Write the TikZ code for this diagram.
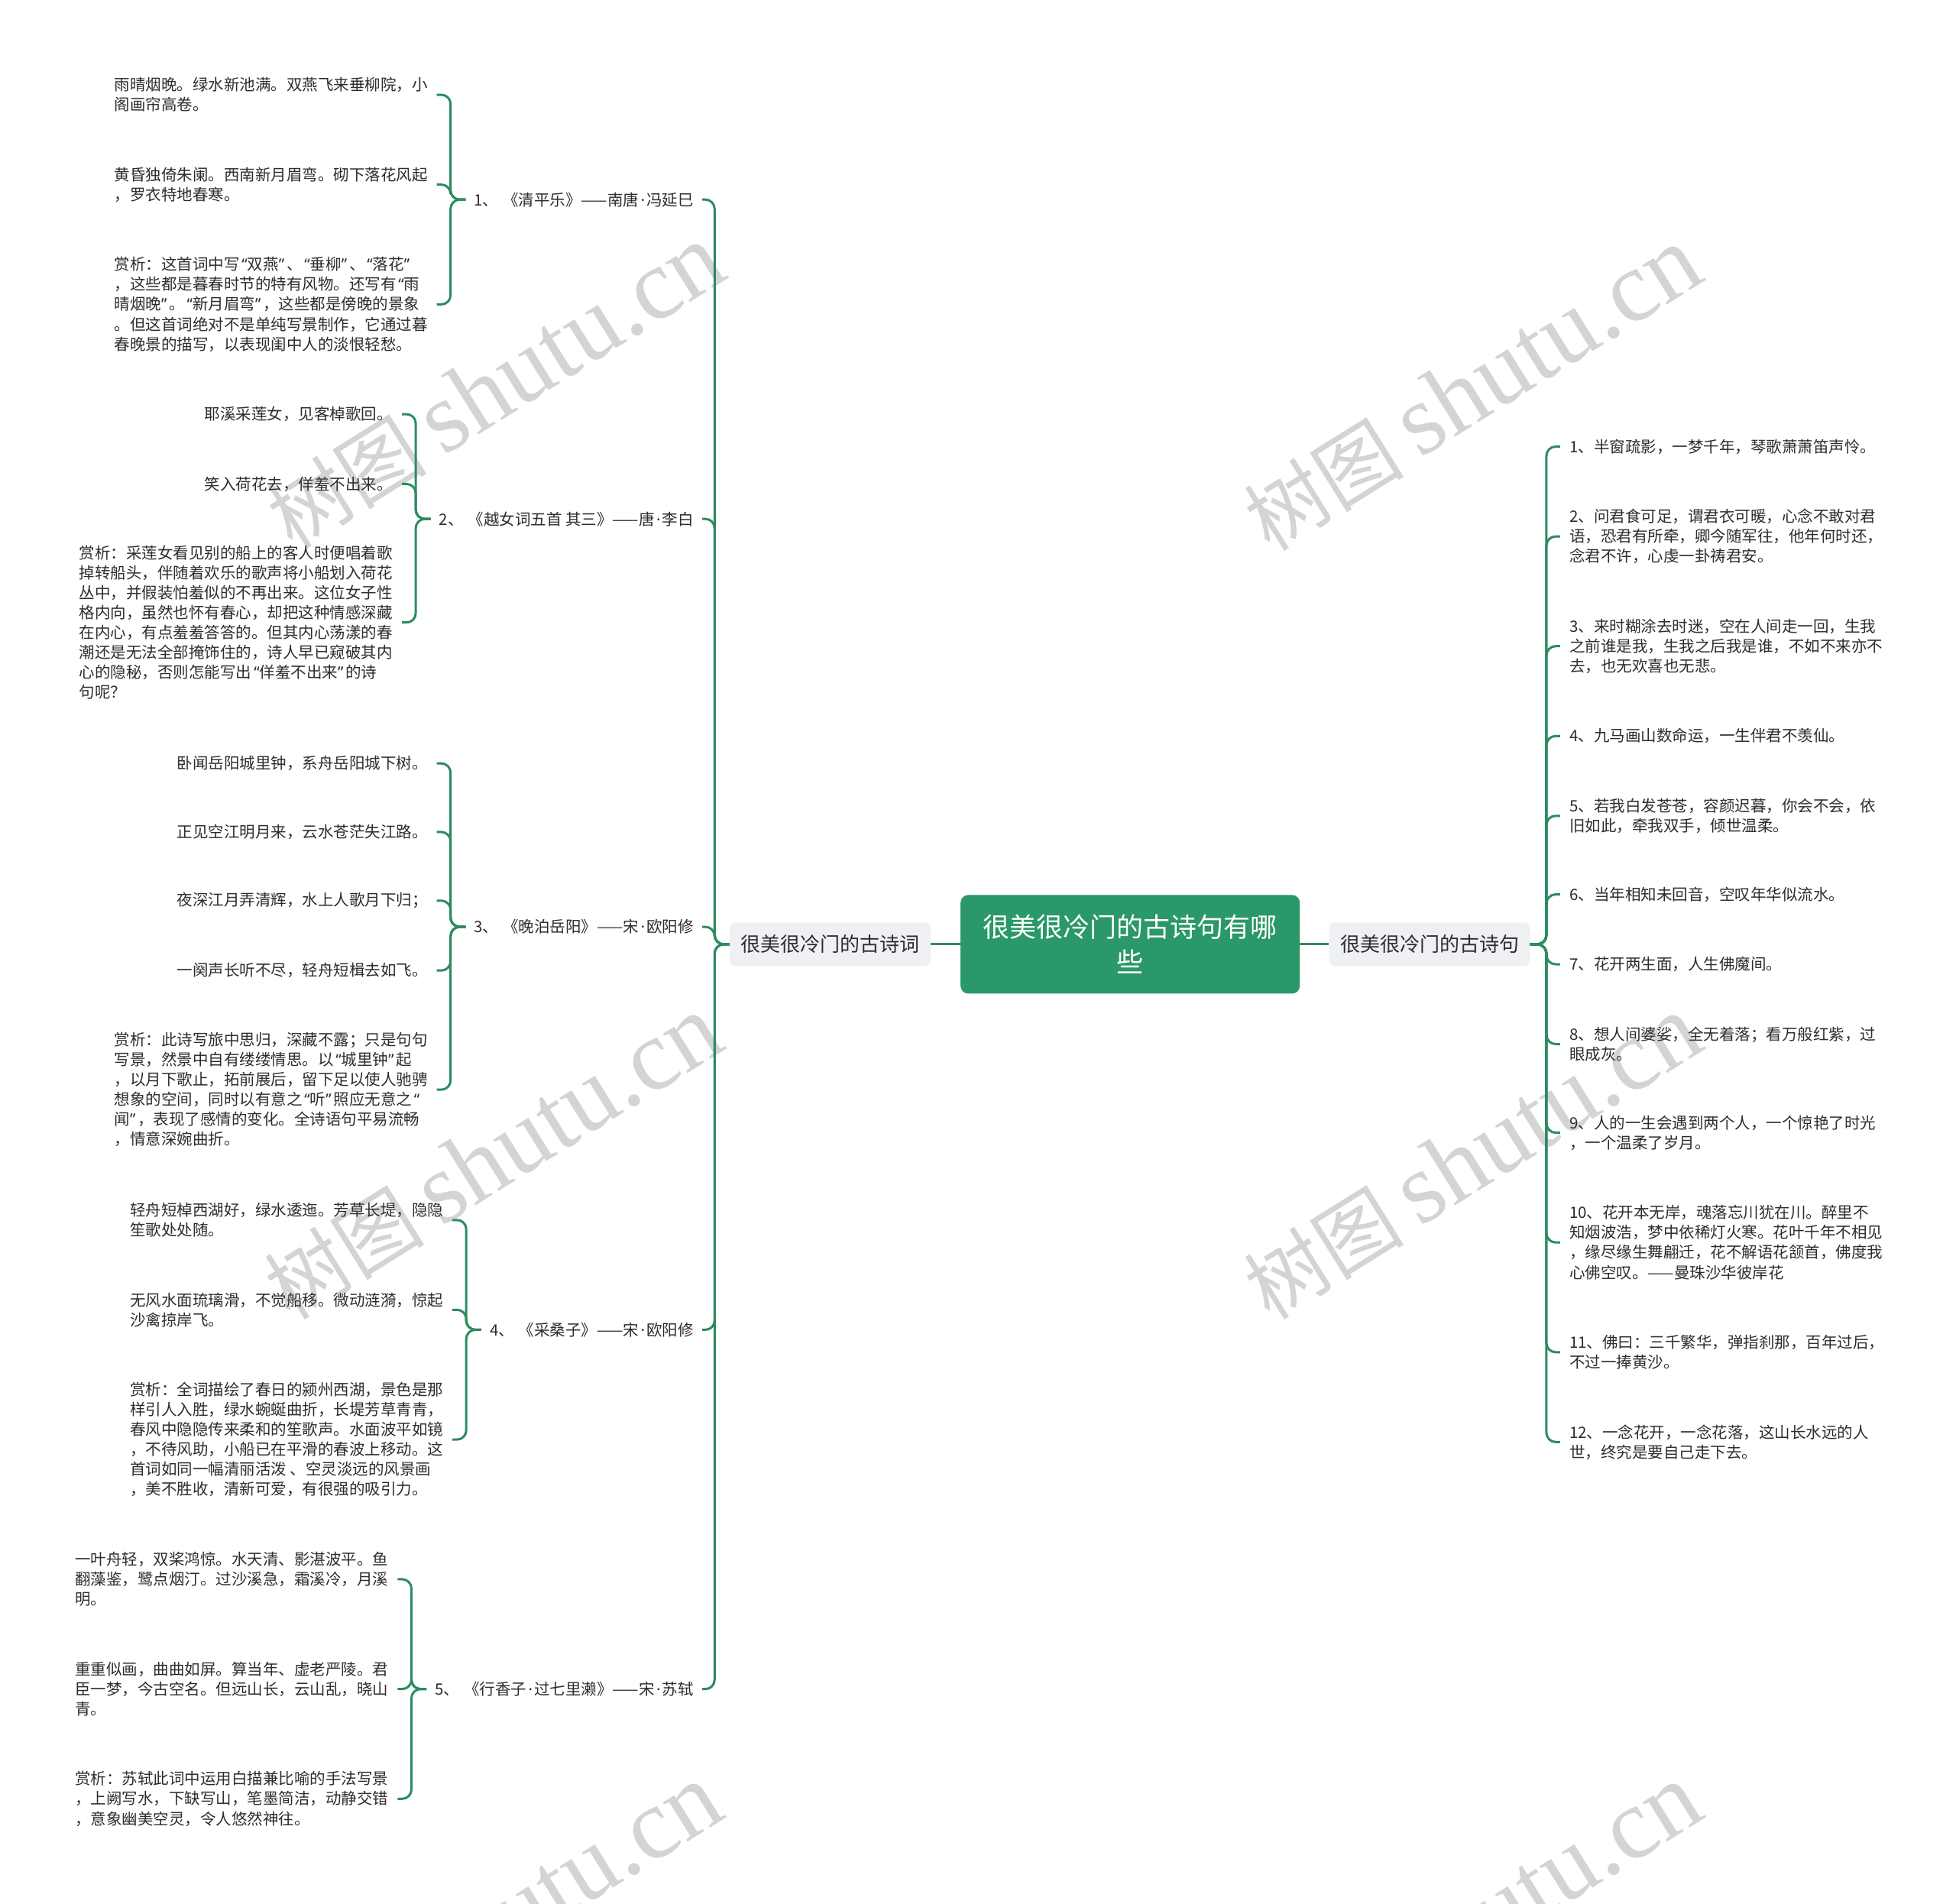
\documentclass[tikz,border=0pt]{standalone}
\usepackage{fontspec}
\setmainfont{Noto Sans CJK SC}
\newfontfamily\wmlatin{Liberation Serif}
\newfontfamily\westf{Noto Sans}
\newcommand{\qo}{\makebox[0.5em][r]{\westf “}}
\newcommand{\qc}{\makebox[0.5em][l]{\westf ”}}
\newcommand{\qdot}{\makebox[0.5em]{\westf ·}}
\newcommand{\dun}{、\hspace{6pt}}
\usetikzlibrary{calc}
\definecolor{mgreen}{RGB}{42,152,104}
\definecolor{lgreen}{RGB}{44,140,96}
\definecolor{bfill}{RGB}{238,240,244}
\definecolor{txt}{RGB}{45,45,45}
\definecolor{wmc}{RGB}{212,212,212}
\begin{document}
\begin{tikzpicture}[x=1.63265pt,y=-1.63265pt,
 link/.style={draw=lgreen,line width=3pt,rounded corners=12pt},
 leaf/.style={font=\fontsize{20.5}{26.1}\selectfont,text=txt,align=left,inner xsep=12pt,inner ysep=4pt},
 leafL/.style={leaf,anchor=east,xshift=-18pt},
 leafR/.style={leaf,anchor=west,xshift=18pt},
 sub/.style={font=\fontsize{20.5}{26.1}\selectfont,text=txt,anchor=east,inner xsep=11pt,inner ysep=4pt},
 branch/.style={fill=bfill,rounded corners=8pt,minimum width=263pt,minimum height=57pt,font=\fontsize{26}{30}\selectfont,text=txt,inner sep=0pt},
 root/.style={fill=mgreen,rounded corners=10pt,minimum width=444pt,minimum height=129pt,font=\fontsize{35}{46}\selectfont,text=white,align=center,inner sep=0pt},
 wm/.style={text=wmc,rotate=32,inner sep=0pt}]
\useasboundingbox[fill=white] (0,0) rectangle (1568,1526);
% watermarks
\begin{scope}
\clip (0,0) rectangle (1568,1526);
\foreach \wx/\wy in {397/310,1180/312,395/928,1180/928,395/1544,1180/1544}{
 \node[wm] at (\wx,\wy) {\fontsize{105}{105}\selectfont 树图\hspace{22pt}{\wmlatin\fontsize{132}{132}\selectfont shutu.cn}};
}
\end{scope}
% root and branches
\node[root] (root) at (906,757) {很美很冷门的古诗句有哪\\些};
\node[branch] (lb) at (665.5,757) {很美很冷门的古诗词};
\node[branch] (rb) at (1146,757) {很美很冷门的古诗句};
\draw[link] (root.west) -- (lb.east);
\draw[link] (root.east) -- (rb.west);
\coordinate (ls) at ($(lb.west)+(-12,0)$);
\coordinate (rs) at ($(rb.east)+(13,0)$);
% left level 2
\node[sub] (g1) at (563,160) {1\dun《清平乐》——南唐\qdot 冯延巳};
\node[sub] (g2) at (563,416) {2\dun《越女词五首 其三》——唐\qdot 李白};
\node[sub] (g3) at (563,743) {3\dun《晚泊岳阳》——宋\qdot 欧阳修};
\node[sub] (g4) at (563,1066) {4\dun《采桑子》——宋\qdot 欧阳修};
\node[sub] (g5) at (563,1354) {5\dun《行香子\qdot 过七里濑》——宋\qdot 苏轼};
\foreach \g in {g1,g2,g3,g4,g5}{\draw[link] (lb.west) -- (ls) |- (\g.east);}
% group 1
\coordinate (b1) at ($(g1.west)+(-12,0)$);
\node[leafL] (l11) at (b1 |- 0,76) {雨晴烟晚。绿水新池满。双燕飞来垂柳院，小\\阁画帘高卷。};
\node[leafL] (l12) at (b1 |- 0,148) {黄昏独倚朱阑。西南新月眉弯。砌下落花风起\\，罗衣特地春寒。};
\node[leafL] (l13) at (b1 |- 0,244) {赏析：这首词中写\qo 双燕\qc 、\qo 垂柳\qc 、\qo 落花\qc\\，这些都是暮春时节的特有风物。还写有\qo 雨\\晴烟晚\qc 。\qo 新月眉弯\qc ，这些都是傍晚的景象\\。但这首词绝对不是单纯写景制作，它通过暮\\春晚景的描写，以表现闺中人的淡恨轻愁。};
\foreach \l in {l11,l12,l13}{\draw[link] (g1.west) -- (b1) |- (\l.east);}
% group 2
\coordinate (b2) at ($(g2.west)+(-12,0)$);
\node[leafL] (l21) at (b2 |- 0,332) {耶溪采莲女，见客棹歌回。};
\node[leafL] (l22) at (b2 |- 0,388) {笑入荷花去，佯羞不出来。};
\node[leafL] (l23) at (b2 |- 0,499) {赏析：采莲女看见别的船上的客人时便唱着歌\\掉转船头，伴随着欢乐的歌声将小船划入荷花\\丛中，并假装怕羞似的不再出来。这位女子性\\格内向，虽然也怀有春心，却把这种情感深藏\\在内心，有点羞羞答答的。但其内心荡漾的春\\潮还是无法全部掩饰住的，诗人早已窥破其内\\心的隐秘，否则怎能写出\qo 佯羞不出来\qc 的诗\\句呢？};
\foreach \l in {l21,l22,l23}{\draw[link] (g2.west) -- (b2) |- (\l.east);}
% group 3
\coordinate (b3) at ($(g3.west)+(-12,0)$);
\node[leafL] (l31) at (b3 |- 0,612) {卧闻岳阳城里钟，系舟岳阳城下树。};
\node[leafL] (l32) at (b3 |- 0,667) {正见空江明月来，云水苍茫失江路。};
\node[leafL] (l33) at (b3 |- 0,722) {夜深江月弄清辉，水上人歌月下归；};
\node[leafL] (l34) at (b3 |- 0,778) {一阕声长听不尽，轻舟短楫去如飞。};
\node[leafL] (l35) at (b3 |- 0,873.5) {赏析：此诗写旅中思归，深藏不露；只是句句\\写景，然景中自有缕缕情思。以\qo 城里钟\qc 起\\，以月下歌止，拓前展后，留下足以使人驰骋\\想象的空间，同时以有意之\qo 听\qc 照应无意之\qo\\闻\qc ，表现了感情的变化。全诗语句平易流畅\\，情意深婉曲折。};
\foreach \l in {l31,l32,l33,l34,l35}{\draw[link] (g3.west) -- (b3) |- (\l.east);}
% group 4
\coordinate (b4) at ($(g4.west)+(-12,0)$);
\node[leafL] (l41) at (b4 |- 0,978) {轻舟短棹西湖好，绿水逶迤。芳草长堤，隐隐\\笙歌处处随。};
\node[leafL] (l42) at (b4 |- 0,1050) {无风水面琉璃滑，不觉船移。微动涟漪，惊起\\沙禽掠岸飞。};
\node[leafL] (l43) at (b4 |- 0,1154) {赏析：全词描绘了春日的颍州西湖，景色是那\\样引人入胜，绿水蜿蜒曲折，长堤芳草青青，\\春风中隐隐传来柔和的笙歌声。水面波平如镜\\，不待风助，小船已在平滑的春波上移动。这\\首词如同一幅清丽活泼 、空灵淡远的风景画\\，美不胜收，清新可爱，有很强的吸引力。};
\foreach \l in {l41,l42,l43}{\draw[link] (g4.west) -- (b4) |- (\l.east);}
% group 5
\coordinate (b5) at ($(g5.west)+(-12,0)$);
\node[leafL] (l51) at (b5 |- 0,1266) {一叶舟轻，双桨鸿惊。水天清、影湛波平。鱼\\翻藻鉴，鹭点烟汀。过沙溪急，霜溪冷，月溪\\明。};
\node[leafL] (l52) at (b5 |- 0,1354) {重重似画，曲曲如屏。算当年、虚老严陵。君\\臣一梦，今古空名。但远山长，云山乱，晓山\\青。};
\node[leafL] (l53) at (b5 |- 0,1442) {赏析：苏轼此词中运用白描兼比喻的手法写景\\，上阙写水，下缺写山，笔墨简洁，动静交错\\，意象幽美空灵，令人悠然神往。};
\foreach \l in {l51,l52,l53}{\draw[link] (g5.west) -- (b5) |- (\l.east);}
% right side
\node[leafR] (r1) at (rs |- 0,358) {1、半窗疏影，一梦千年，琴歌萧萧笛声怜。};
\node[leafR] (r2) at (rs |- 0,430) {2、问君食可足，谓君衣可暖，心念不敢对君\\语，恐君有所牵，卿今随军往，他年何时还，\\念君不许，心虔一卦祷君安。};
\node[leafR] (r3) at (rs |- 0,518) {3、来时糊涂去时迷，空在人间走一回，生我\\之前谁是我，生我之后我是谁，不如不来亦不\\去，也无欢喜也无悲。};
\node[leafR] (r4) at (rs |- 0,590) {4、九马画山数命运，一生伴君不羡仙。};
\node[leafR] (r5) at (rs |- 0,654) {5、若我白发苍苍，容颜迟暮，你会不会，依\\旧如此，牵我双手，倾世温柔。};
\node[leafR] (r6) at (rs |- 0,717) {6、当年相知未回音，空叹年华似流水。};
\node[leafR] (r7) at (rs |- 0,773) {7、花开两生面，人生佛魔间。};
\node[leafR] (r8) at (rs |- 0,837) {8、想人间婆娑，全无着落；看万般红紫，过\\眼成灰。};
\node[leafR] (r9) at (rs |- 0,908) {9、人的一生会遇到两个人，一个惊艳了时光\\，一个温柔了岁月。};
\node[leafR] (r10) at (rs |- 0,996) {10、花开本无岸，魂落忘川犹在川。醉里不\\知烟波浩，梦中依稀灯火寒。花叶千年不相见\\，缘尽缘生舞翩迁，花不解语花颔首，佛度我\\心佛空叹。——曼珠沙华彼岸花};
\node[leafR] (r11) at (rs |- 0,1084) {11、佛曰：三千繁华，弹指刹那，百年过后，\\不过一捧黄沙。};
\node[leafR] (r12) at (rs |- 0,1156) {12、一念花开，一念花落，这山长水远的人\\世，终究是要自己走下去。};
\foreach \r in {r1,r2,r3,r4,r5,r6,r7,r8,r9,r10,r11,r12}{\draw[link] (rb.east) -- (rs) |- (\r.west);}
\end{tikzpicture}
\end{document}
